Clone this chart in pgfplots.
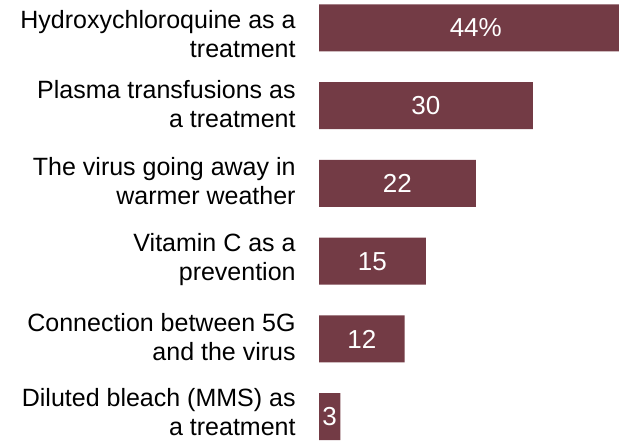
\documentclass[border=0pt]{standalone}
\usepackage{fontspec}
\setmainfont{Liberation Sans}
\usepackage{pgfplots}
\pgfplotsset{compat=1.18}
\definecolor{barc}{RGB}{115,59,69}
\begin{document}
\begin{tikzpicture}
\begin{axis}[
  scale only axis, width=150pt, height=220pt,
  xmin=0, xmax=42.1, ymin=-0.36, ymax=5.30, y dir=reverse,
  axis line style={draw=none}, major tick style={draw=none},
  xtick=\empty,
  ytick={0,1,2,3,4,5},
  yticklabels={{Hydroxychloroquine as a\\treatment},{Plasma transfusions as\\a treatment},{The virus going away in\\warmer weather},{Vitamin C as a\\prevention},{Connection between 5G\\and the virus},{Diluted bleach (MMS) as\\a treatment}},
  yticklabel style={align=right, font=\fontsize{12.5}{14.5}\selectfont, inner sep=0pt, xshift=-11.5pt, yshift={ifthenelse(\ticknum==0,-3,ifthenelse(\ticknum==5,2.5,1))}},
]
\addplot[xbar, bar width=23.5pt, fill=barc, draw=none] coordinates {(44,0) (30,1) (22,2) (15,3) (12,4) (3,5)};
\addplot[draw=none, nodes near coords, point meta=explicit symbolic,
  every node near coord/.style={anchor=center, text=white, font=\fontsize{13}{15}\selectfont}]
  coordinates {(22,0) [44\%] (15,1) [30] (11,2) [22] (7.5,3) [15] (6,4) [12] (1.5,5) [3]};
\end{axis}
\pgfresetboundingbox
\path ([xshift=-159.5pt]current axis.south west) rectangle (current axis.north east);
\end{tikzpicture}
\end{document}
